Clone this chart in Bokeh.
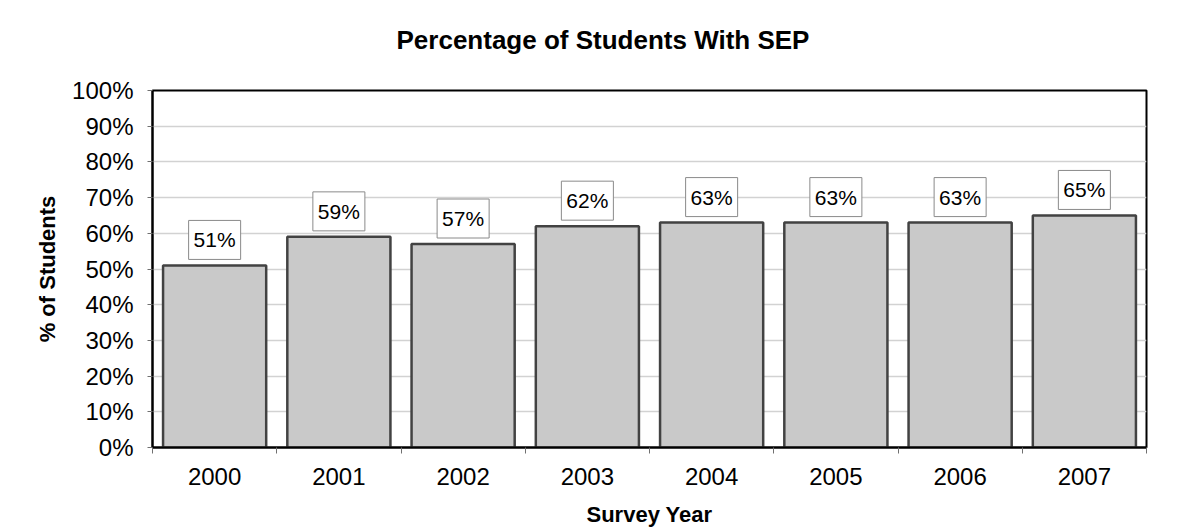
from bokeh.plotting import figure
from bokeh.models import ColumnDataSource, FixedTicker, PrintfTickFormatter, Range1d, Div
from bokeh.layouts import column
from bokeh.core.properties import value
from bokeh.embed import file_html
from bokeh.resources import INLINE

years = ["2000", "2001", "2002", "2003", "2004", "2005", "2006", "2007"]
pct = [51, 59, 57, 62, 63, 63, 63, 65]
y_ticks = [0, 10, 20, 30, 40, 50, 60, 70, 80, 90, 100]
title_text = "Percentage of Students With SEP"

pos = [i + 0.5 for i in range(len(years))]
src = ColumnDataSource(dict(x=pos, top=pct, lab=[f"{v}%" for v in pct]))

FONT = "Liberation Sans"

title = Div(text=title_text, width=1182, height=30, margin=(25, 0, 5, 12),
            styles={"font-family": FONT, "font-size": "26px", "font-weight": "bold",
                    "color": "black", "text-align": "center", "line-height": "30px"})

p = figure(width=1194, height=471, output_backend="svg", toolbar_location=None,
           x_range=Range1d(0, len(years)), y_range=Range1d(0, 100),
           min_border_left=152, min_border_right=48, min_border_top=30, min_border_bottom=84)

p.vbar(x="x", top="top", width=0.83, bottom=0, source=src,
       fill_color="#c9c9c9", line_color="#424242", line_width=2.5)

p.text(x="x", y="top", text="lab", source=src, text_align="center",
       text_baseline="bottom", y_offset=-6,
       text_font=value(FONT), text_font_size="21px", text_color="black",
       background_fill_color="white", border_line_color="#8a8a8a",
       border_line_width=1,
       padding=dict(left=5, right=5, top=8, bottom=8))

p.outline_line_color = "black"
p.outline_line_width = 2
p.background_fill_color = "white"
p.border_fill_color = "white"

p.xgrid.visible = False
p.ygrid.ticker = FixedTicker(ticks=y_ticks)
p.ygrid.grid_line_color = "#d2d2d2"
p.ygrid.grid_line_width = 1.5

# y axis
p.yaxis.ticker = FixedTicker(ticks=y_ticks)
p.yaxis.formatter = PrintfTickFormatter(format="%d%%")
p.yaxis.axis_label = "% of Students"
p.yaxis.axis_label_text_font = FONT
p.yaxis.axis_label_text_font_size = "22px"
p.yaxis.axis_label_text_font_style = "bold"
p.yaxis.axis_label_text_color = "black"
p.yaxis.axis_label_standoff = 9
p.yaxis.major_label_text_font = FONT
p.yaxis.major_label_text_font_size = "24px"
p.yaxis.major_label_text_color = "black"
p.yaxis.major_label_standoff = 14
p.yaxis.major_tick_out = 5
p.yaxis.major_tick_in = 0
p.yaxis.major_tick_line_color = "#707070"
p.yaxis.minor_tick_line_color = None
p.yaxis.axis_line_color = "black"
p.yaxis.axis_line_width = 2

# x axis
p.xaxis.ticker = FixedTicker(ticks=pos, minor_ticks=list(range(len(years) + 1)))
p.xaxis.major_label_overrides = {x: y for x, y in zip(pos, years)}
p.xaxis.axis_label = "Survey Year"
p.xaxis.axis_label_text_font = FONT
p.xaxis.axis_label_text_font_size = "22px"
p.xaxis.axis_label_text_font_style = "bold"
p.xaxis.axis_label_text_color = "black"
p.xaxis.axis_label_standoff = 14
p.xaxis.major_label_text_font = FONT
p.xaxis.major_label_text_font_size = "24px"
p.xaxis.major_label_text_color = "black"
p.xaxis.major_label_standoff = 14
p.xaxis.major_tick_line_color = None
p.xaxis.major_tick_out = 5
p.xaxis.major_tick_in = 0
p.xaxis.minor_tick_out = 6
p.xaxis.minor_tick_in = 0
p.xaxis.minor_tick_line_color = "#707070"
p.xaxis.axis_line_color = "black"
p.xaxis.axis_line_width = 2

layout = column(title, p, spacing=0)
open("out.html", "w").write(file_html(layout, INLINE))
